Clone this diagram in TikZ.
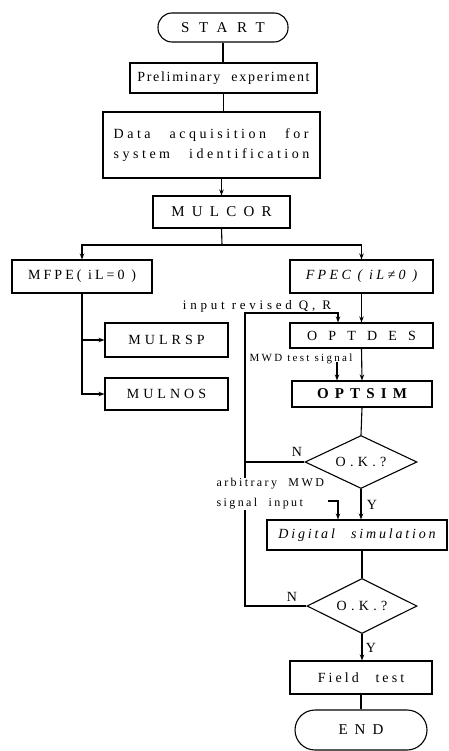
\documentclass[tikz,border=0pt]{standalone}
\usepackage{fontspec}
\setmainfont{Liberation Serif}
\usetikzlibrary{arrows.meta,shapes.geometric}
\begin{document}
\begin{tikzpicture}[x=1pt,y=-1pt,line width=1.1pt,
  box/.style={draw,rectangle,inner sep=0pt},
  term/.style={draw,rectangle,inner sep=0pt},
  dec/.style={draw,diamond,inner sep=0pt,aspect=2},
  arr/.style={-{Stealth[length=6pt,width=4.5pt]}},
  tx/.style 2 args={font=\fontsize{#1}{20}\selectfont\addfontfeature{LetterSpace=#2}},
  txi/.style 2 args={font=\fontsize{#1}{20}\selectfont\itshape\addfontfeature{LetterSpace=#2}},
  txb/.style 2 args={font=\fontsize{#1}{20}\selectfont\bfseries\addfontfeature{LetterSpace=#2}},
  lab/.style={font=\fontsize{14}{16}\selectfont,inner sep=0pt}]
\useasboundingbox (0,0) rectangle (448,751);
% nodes
\node[term,rounded corners=14pt,minimum width=130pt,minimum height=29pt,tx={15}{64}] (start) at (223,27.5) {START};
\node[box,minimum width=187pt,minimum height=30pt,tx={14}{12}] (prelim) at (223.5,78) {Preliminary\hspace{6pt} experiment};
\node[box,minimum width=217pt,minimum height=66pt,tx={14}{25},align=left] (data) at (211.5,145) {Data\hspace{12pt} acquisition\hspace{12pt} for\\system\hspace{12pt} identification};
\node[box,minimum width=137pt,minimum height=32pt,tx={15}{48}] (mulcor) at (221.5,212) {MULCOR};
\node[box,minimum width=140pt,minimum height=33pt,tx={14}{22}] (mfpe) at (82,276.5) {MFPE( iL=0 )};
\node[box,minimum width=143pt,minimum height=33pt,txi={14}{24}] (fpec) at (361.5,276.5) {FPEC ( iL≠0 )};
\node[box,minimum width=123pt,minimum height=34pt,tx={14}{29}] (mulrsp) at (166.5,340) {MULRSP};
\node[box,minimum width=123pt,minimum height=32pt,tx={14}{29}] (mulnos) at (166.5,394) {MULNOS};
\node[box,minimum width=143pt,minimum height=25pt,tx={14}{80}] (optdes) at (361.5,335.5) {OPTDES};
\node[box,minimum width=140pt,minimum height=26pt,txb={15}{41}] (optsim) at (362,394) {OPTSIM};
\node[dec,minimum width=112pt,minimum height=53pt,tx={14}{31}] (ok1) at (361,462) {O.K.?};
\node[box,minimum width=180pt,minimum height=30pt,txi={14}{20}] (digital) at (357,535) {Digital\hspace{10pt} simulation};
\node[dec,minimum width=110pt,minimum height=55pt,tx={14}{31}] (ok2) at (362,606) {O.K.?};
\node[box,minimum width=142pt,minimum height=33pt,tx={14}{22}] (field) at (361,677.5) {Field\hspace{10pt} test};
\node[term,rounded corners=20pt,minimum width=132pt,minimum height=40pt,tx={15}{47}] (end) at (361,730) {END};
% coordinates
\coordinate (sp) at (222,245);
\coordinate (lp) at (245,313);
\coordinate (qin) at (338,313);
\coordinate (lj) at (245,462);
\coordinate (mw) at (337,362);
\coordinate (ab) at (328,501);
\coordinate (ab2) at (338,501);
% connectors
\draw (start.south) -- (start.south |- prelim.north);
\draw (prelim.south) -- (prelim.south |- data.north);
\draw[arr] (mulcor.north |- data.south) -- (mulcor.north);
\draw (mulcor.south) -- (sp);
\draw[arr] (sp) -| (mfpe.north);
\draw[arr] (sp) -| (fpec.north);
\draw[arr] (mfpe.south) |- (mulnos.west);
\draw[arr] (mfpe.south |- mulrsp.west) -- (mulrsp.west);
\draw[arr] (fpec.south) -- (optdes.north);
\draw[arr] (optdes.south) -- (optsim.north);
\draw (optsim.south) -- (ok1.north);
\draw[arr] (ok1.south) -- (ok1.south |- digital.north);
\draw (ok2.north |- digital.south) -- (ok2.north);
\draw[arr] (ok2.south) -- (ok2.south |- field.north);
\draw (field.south) -- (end.north);
\draw[arr] (ok1.west) -| (lp) -- (qin) -- (qin |- optdes.north);
\draw (ok2.west) -| (lj);
\draw[arr] (mw) -- (mw |- optsim.north);
\draw[arr] (ab) -- (ab2) -- (ab2 |- digital.north);
% labels
\node[tx={13}{29},anchor=base,inner sep=0pt] (lblq) at (257,309) {input revised Q, R};
\node[tx={11}{21},anchor=base west,inner sep=0pt] (lblm) at (249,361) {MWD test signal};
\node[tx={12}{20},align=left,anchor=north west,fill=white,inner sep=1pt] (lbla) at (215,477) {arbitrary\hspace{6pt} MWD\\signal\hspace{6pt} input};
\node[lab] (n1) at (297,452) {N};
\node[lab] (n2) at (292,597) {N};
\node[lab] (y1) at (372,505) {Y};
\node[lab] (y2) at (371,648) {Y};
\end{tikzpicture}
\end{document}
